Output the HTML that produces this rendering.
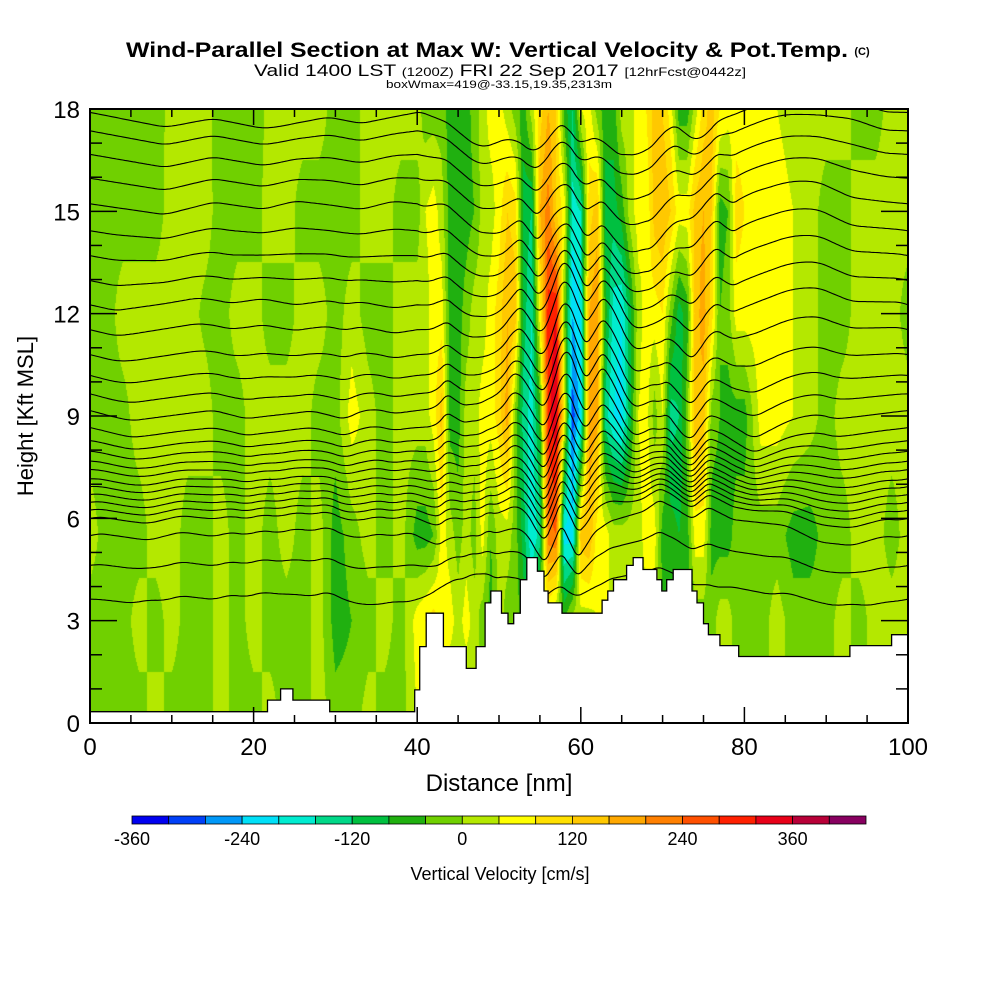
<!DOCTYPE html>
<html><head><meta charset="utf-8">
<style>
html,body{margin:0;padding:0;background:#fff;}
#wrap{position:relative;width:1000px;height:1000px;overflow:hidden;font-family:"Liberation Sans",sans-serif;}
#field{position:absolute;left:90px;top:109px;}
#ov{position:absolute;left:0;top:0;}
</style></head>
<body>
<div id="wrap">
<canvas id="field" width="818" height="614"></canvas>
<svg id="ov" width="1000" height="1000" xmlns="http://www.w3.org/2000/svg">
<g>
<text x="487" y="57" text-anchor="middle" font-size="21" font-weight="bold" textLength="722" lengthAdjust="spacingAndGlyphs">Wind-Parallel Section at Max W: Vertical Velocity &amp; Pot.Temp.</text>
<text x="862" y="55" text-anchor="middle" font-size="11" font-weight="bold">(C)</text>
<text x="500" y="76" text-anchor="middle" font-size="17" textLength="492" lengthAdjust="spacingAndGlyphs">Valid 1400 LST <tspan font-size="12">(1200Z)</tspan> FRI 22 Sep 2017 <tspan font-size="12">[12hrFcst@0442z]</tspan></text>
<text x="499" y="88" text-anchor="middle" font-size="11" textLength="226" lengthAdjust="spacingAndGlyphs">boxWmax=419@-33.15,19.35,2313m</text>
</g>
<g id="contours"></g>
<path id="terrain" fill="#fff" stroke="#000" stroke-width="1.3"/>
<g id="axes"></g>
<text x="499" y="791" text-anchor="middle" font-size="24">Distance [nm]</text>
<text transform="translate(33,416) rotate(-90)" text-anchor="middle" font-size="22">Height [Kft MSL]</text>
<g id="cbar"></g>
<text x="500" y="880" text-anchor="middle" font-size="18">Vertical Velocity [cm/s]</text>
</svg>
</div>
<script>
// ---- data ----
const xsNm = [0,2,4,6,8,10,12,14,16,18,20,22,24,26,28,30,32,34,36,38,
40,41,42,43,44,45,46,47,48,49,50,51,52,53,54,55,56,57,58,59,60,61,62,63,64,65,66,67,68,69,70,71,72,73,74,75,76,77,78,79,80,
82,84,86,88,90,92,94,96,98,100];
const heightsKft = [0,3,5.5,9,12,15,18];
const w0 = [-20,-20,-20,-20,20,-20,-20,-20,20,-20,-20,20,-20,-20,20,-20,-20,20,-20,-20,
40,20,-20,20,-20,20,-20,20,-20,20,-20,20,-20,20,-20,20,-20,20,-20,20,-20,20,-20,20,-20,20,-20,20,-20,20,-20,20,-20,20,-20,20,-20,20,-20,20,-20,
-20,20,-20,20,-20,20,-20,20,-20,20];
const w3 = [-20,-20,-20,20,-20,20,-20,-20,20,-20,20,-20,-20,-20,20,-60,-40,-20,20,-20,
60,80,100,60,60,20,60,20,-20,-60,20,-20,-20,-60,-100,20,40,-20,-40,20,20,20,40,60,20,20,20,20,20,20,-40,-40,-60,-60,-20,-20,-20,20,20,-20,-20,
-20,20,-20,-20,-20,20,-20,20,20,20];
const w55 = [20,-20,-20,-20,20,20,-20,-20,20,-20,20,-20,20,-20,20,-60,-20,20,-20,20,
-60,-60,-40,60,20,-20,20,-20,60,-40,20,20,-20,-100,-200,-140,220,240,-220,-220,140,160,60,60,20,20,20,20,60,60,-60,-60,-80,-60,60,60,-60,-60,-60,-20,-20,
-20,-20,-60,-60,-20,-20,20,20,-20,20];
const w9 = [-20,-20,-15,20,20,20,20,20,-20,-20,20,20,20,20,-20,-20,60,20,-20,20,
20,20,60,140,-60,-60,20,20,60,60,100,180,-20,-140,-180,-60,300,360,60,-300,-220,180,180,-140,-200,-220,-100,40,60,-20,40,-140,-120,-20,160,140,-20,-40,-60,-60,-60,
60,60,40,20,-20,20,20,20,20,20];
const w12 = [-20,-20,20,20,20,20,20,-10,-20,20,20,-20,-20,20,20,-20,20,-20,-20,20,
20,20,60,60,-60,-60,-20,20,20,60,100,160,140,-100,-160,60,300,320,-20,-240,-200,160,200,-60,-180,-200,-100,20,60,60,80,-20,-100,-60,140,180,100,-40,-20,60,60,
60,60,40,20,-20,-20,20,20,20,-20];
const w15 = [-20,-20,-20,-20,-20,20,20,20,-20,-20,-20,20,20,-20,-20,-20,-20,20,20,-20,
-20,40,60,20,-60,-60,-60,-40,20,20,60,120,100,-100,-120,160,220,120,60,-180,-160,100,140,-100,-100,-60,20,60,40,140,160,120,60,60,140,160,120,-60,-40,100,80,
60,60,40,20,-20,-20,20,20,20,20];
const w18 = [-20,-20,-20,-20,-20,15,20,15,-20,-20,-20,10,20,20,20,-20,-20,20,20,20,
20,-20,-20,-20,-60,-60,-60,-20,20,60,60,20,-20,-60,20,100,160,120,-60,-120,40,60,-20,-60,-60,20,20,60,80,140,120,60,-60,-60,20,100,140,80,60,60,60,
60,40,20,20,20,20,-20,-20,20,20];
const wRows = [w0,w3,w55,w9,w12,w15,w18];
const terrainX = [0,21.7,23.3,24.8,29.3,39.7,40.3,41.1,43.2,46.0,47.2,48.3,49.0,50.3,51.1,51.8,52.6,53.4,54.7,55.5,56.0,57.7,62.6,63.3,64.0,65.6,66.4,67.6,69.3,69.9,70.5,71.3,73.6,74.2,75.0,75.6,77.0,79.3,92.9,98.0,100];
const terrainH = [0.33,0.67,1.0,0.67,0.33,0.97,2.24,3.22,2.24,1.6,2.24,3.52,3.87,3.22,2.91,3.22,4.2,4.85,4.45,3.87,3.52,3.22,3.6,3.87,4.2,4.62,4.85,4.5,4.2,3.87,4.2,4.5,3.87,3.52,2.91,2.59,2.27,1.95,2.27,2.59,2.59];
const thetaBaseKft = [17.9,17.36,16.67,15.97,15.22,14.43,13.7,12.97,12.26,11.53,10.8,10.19,9.65,9.16,8.66,8.28,7.97,7.68,7.43,7.16,6.93,6.7,6.47,6.24,6.0,5.49,4.62,3.63];
const levelColors = ["#0000f0","#0040f8","#0098f8","#00e0f8","#00ecd0","#00d888","#00c040","#20b010","#70d000","#b4e800","#ffff00","#ffe000","#ffc800","#ffa800","#ff8000","#ff5000","#ff2000","#e80018","#b80038","#880060"];
const cbarLabels = [-360,-240,-120,0,120,240,360];
const xTicks = [0,20,40,60,80,100];
const yTicks = [0,3,6,9,12,15,18];

// ---- scales ----
const PL=90, PT=109, PW=818, PH=614;
function sx(nm){return PL + nm/100*PW;}
function sy(k){return PT + PH - k/18*PH;}
function lerpIdx(arr,v){
  if(v<=arr[0]) return [0,0];
  if(v>=arr[arr.length-1]) return [arr.length-2,1];
  let i=0; while(arr[i+1]<v) i++;
  return [i,(v-arr[i])/(arr[i+1]-arr[i])];
}
function wAt(nm,k){
  const [i,fx]=lerpIdx(xsNm,nm), [j,fy]=lerpIdx(heightsKft,k);
  const a=wRows[j][i]*(1-fx)+wRows[j][i+1]*fx;
  const b=wRows[j+1][i]*(1-fx)+wRows[j+1][i+1]*fx;
  return a*(1-fy)+b*fy;
}
function hex(c){return [parseInt(c.slice(1,3),16),parseInt(c.slice(3,5),16),parseInt(c.slice(5,7),16)];}
const rgb = levelColors.map(hex);

// ---- field ----
const cv=document.getElementById('field'), ctx=cv.getContext('2d');
const img=ctx.createImageData(PW,PH);
for(let py=0;py<PH;py++){
  const k=(PH-py-0.5)/PH*18;
  for(let px=0;px<PW;px++){
    const nm=(px+0.5)/PW*100;
    const w=wAt(nm,k);
    let li=Math.floor((w+360)/40); li=Math.max(0,Math.min(19,li));
    const c=rgb[li], o=(py*PW+px)*4;
    img.data[o]=c[0];img.data[o+1]=c[1];img.data[o+2]=c[2];img.data[o+3]=255;
  }
}
ctx.putImageData(img,0,0);

const NS='http://www.w3.org/2000/svg';
function mk(tag,attrs,parent){const e=document.createElementNS(NS,tag);for(const a in attrs)e.setAttribute(a,attrs[a]);parent.appendChild(e);return e;}

// ---- contours (displacement from integrated w) ----
const cg=document.getElementById('contours');
const K=0.0024, DX=0.25;
thetaBaseKft.forEach((b)=>{
  // left part: mean-removed within 0-40; right part: mean-removed within 40-100
  let mL=0,nL=0,mR=0,nR=0;
  for(let x=0;x<100;x+=DX){ const w=wAt(x,b); if(x<40){mL+=w;nL++;} else {mR+=w;nR++;} }
  mL/=nL; mR/=nR;
  let s=0, d='';
  for(let i=0;i*DX<=100+1e-9;i++){
    const x=i*DX;
    const z=b+K*s;
    d+=(i?'L':'M')+sx(x).toFixed(1)+' '+sy(Math.min(18,z)).toFixed(1);
    s+=(wAt(x,b)-(x<40?mL:mR))*DX;
  }
  const p=mk('path',{d:d,fill:'none',stroke:'#000','stroke-width':'1.1'},cg);
  
  
});

// ---- terrain ----
let td='M'+sx(0)+' '+sy(0);
for(let i=0;i<terrainX.length-1;i++){
  td+='L'+sx(terrainX[i]).toFixed(1)+' '+sy(terrainH[i]).toFixed(1)+'L'+sx(terrainX[i+1]).toFixed(1)+' '+sy(terrainH[i]).toFixed(1);
}
td+='L'+sx(100)+' '+sy(0)+'Z';
document.getElementById('terrain').setAttribute('d',td);

// ---- axes ----
const ax=document.getElementById('axes');
const fr=mk('rect',{x:PL,y:PT,width:PW,height:PH,fill:'none',stroke:'#000','stroke-width':'2'},ax);


for(let v=0;v<=100;v+=5){
  const L=(v%20===0)?16:8;
  mk('line',{x1:sx(v),x2:sx(v),y1:PT+PH,y2:PT+PH-L,stroke:'#000','stroke-width':'1.5'},ax);
  mk('line',{x1:sx(v),x2:sx(v),y1:PT,y2:PT+L,stroke:'#000','stroke-width':'1.5'},ax);
}
for(let v=0;v<=18;v+=1){
  const L=(v%3===0)?27:12;
  mk('line',{x1:PL,x2:PL+L,y1:sy(v),y2:sy(v),stroke:'#000','stroke-width':'1.5'},ax);
  mk('line',{x1:PL+PW,x2:PL+PW-L,y1:sy(v),y2:sy(v),stroke:'#000','stroke-width':'1.5'},ax);
}
xTicks.forEach(v=>{
  const t=mk('text',{x:sx(v),y:755,'text-anchor':'middle','font-size':'24'},ax);
  t.textContent=v;
  
  
});
yTicks.forEach(v=>{
  const t=mk('text',{x:80,y:sy(v)+9,'text-anchor':'end','font-size':'24'},ax);
  t.textContent=v;
  
  
});

// ---- colorbar ----
const cb=document.getElementById('cbar');
const CB0=132, CBW=734/20;
function cbx(v){return CB0+(v+360)/40*CBW;}
levelColors.forEach((c,i)=>{
  const r=mk('rect',{x:(CB0+i*CBW).toFixed(2),y:816,width:CBW.toFixed(2),height:8,fill:c,stroke:'#000','stroke-width':'0.8'},cb);
  
  
});
cbarLabels.forEach(v=>{
  const t=mk('text',{x:cbx(v),y:845,'text-anchor':'middle','font-size':'18'},cb);
  t.textContent=v;
  
  
});
</script>
</body></html>
